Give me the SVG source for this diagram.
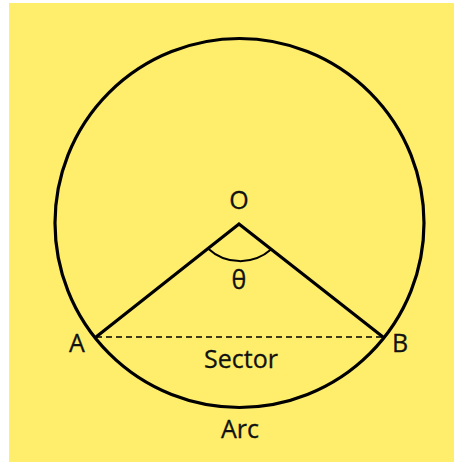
<svg xmlns="http://www.w3.org/2000/svg" width="454" height="463" viewBox="0 0 454 463">
<style>
.lbl{font-family:"Open Sans","Noto Sans","Liberation Sans",sans-serif;font-size:25px;fill:#111;text-anchor:middle;stroke:#111;stroke-width:0.3}
.ln{stroke:#000;fill:none;stroke-width:3.2}
</style>
<rect x="0" y="0" width="454" height="463" fill="#fff"/>
<rect x="9" y="3" width="445" height="459" fill="#FFEE6B"/>
<g id="circle"><circle cx="239.5" cy="223" r="184.5" class="ln"/></g>
<g id="connectors">
<path d="M96 337 L239 224 L383 337" class="ln" stroke-linejoin="miter"/>
<line x1="96" y1="337" x2="383" y2="337" stroke="#000" stroke-width="1.3" stroke-dasharray="6 4"/>
<path d="M208 248.5 A47 47 0 0 0 271 249.5" fill="none" stroke="#000" stroke-width="2"/>
</g>
<g id="O"><text x="239" y="209" class="lbl">O</text></g>
<g id="theta"><text x="239" y="289" class="lbl">θ</text></g>
<g id="A"><text x="77" y="352" class="lbl">A</text></g>
<g id="B"><text x="400" y="352" class="lbl">B</text></g>
<g id="sector"><text x="241" y="368" class="lbl">Sector</text></g>
<g id="arc"><text x="240" y="438" class="lbl">Arc</text></g>
</svg>
